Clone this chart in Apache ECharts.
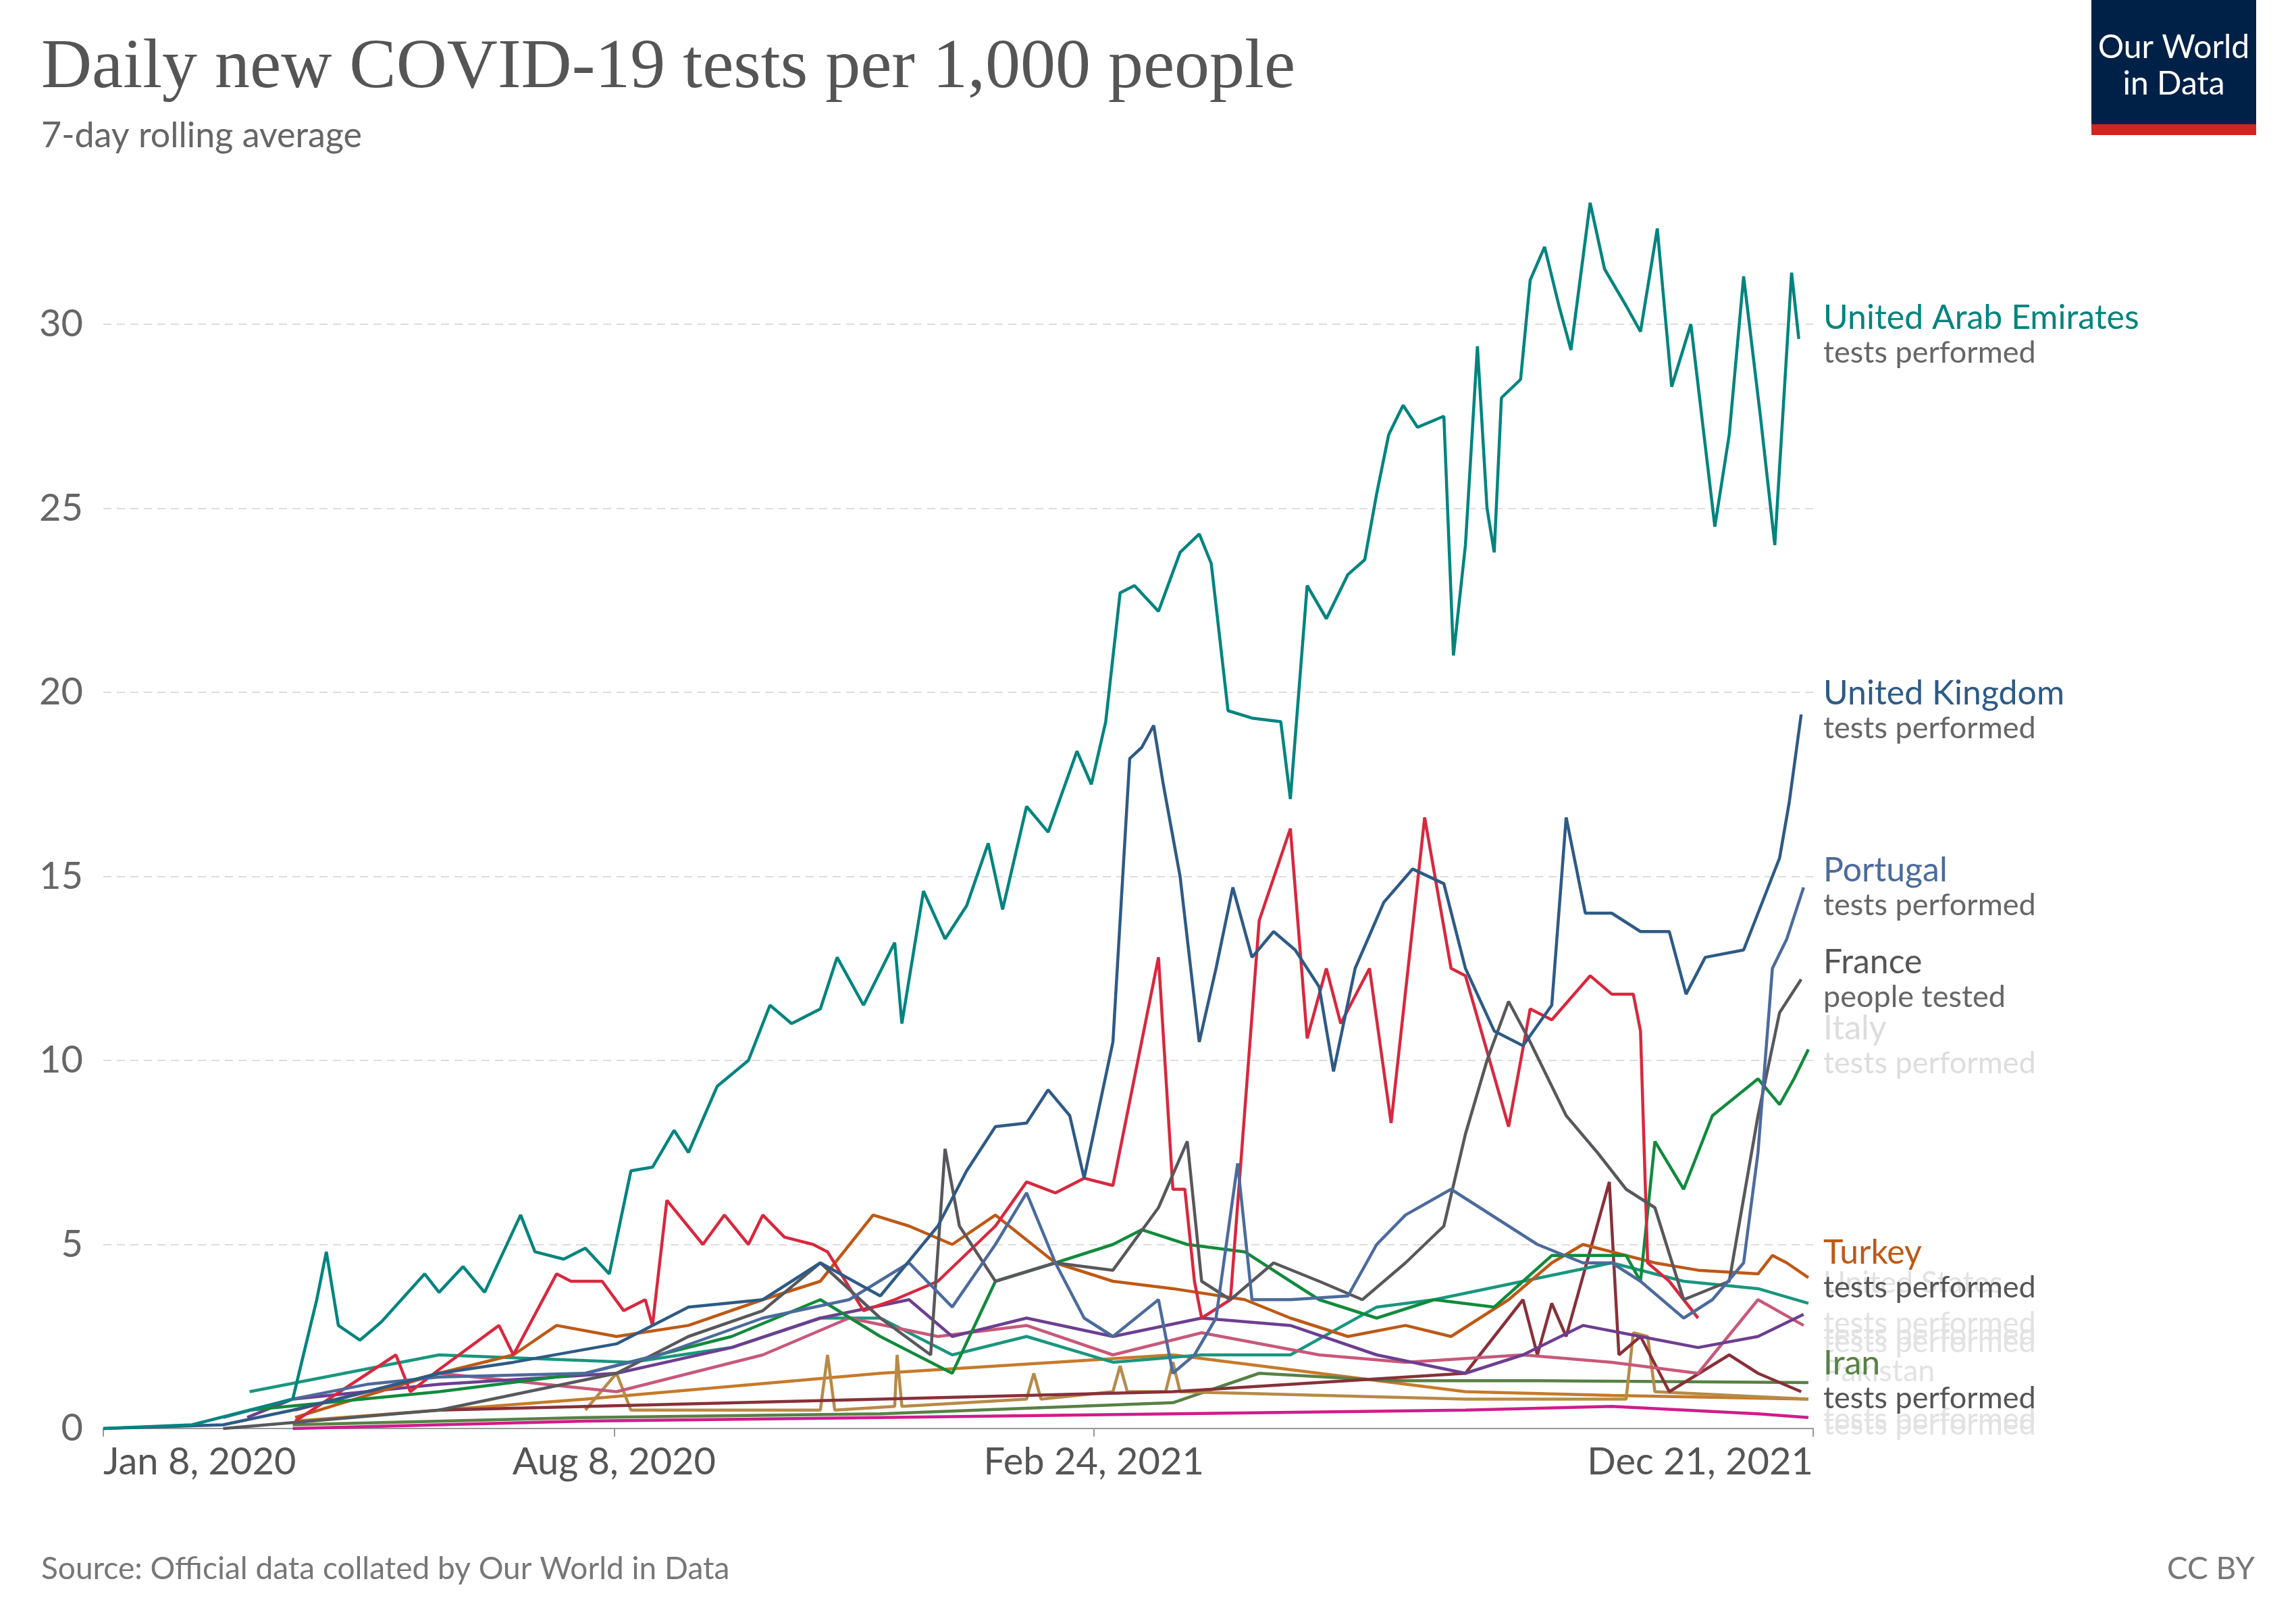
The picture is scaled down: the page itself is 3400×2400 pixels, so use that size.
<!DOCTYPE html>
<html><head><meta charset="utf-8">
<script src="https://cdn.jsdelivr.net/npm/echarts@6/dist/echarts.min.js"></script>
<style>html,body{margin:0;padding:0;background:#fff}#c{width:3400px;height:2400px}</style>
</head><body><div id="c"></div>
<script>
// x values: days since Jan 8, 2020
const xTicks = [0, 213, 413, 713];
const yTicks = [0, 5, 10, 15, 20, 25, 30];
const uae = [[0,0],[37,0.1],[79,0.8],[89,3.5],[93,4.8],[98,2.8],[107,2.4],[116,2.9],[134,4.2],[140,3.7],[150,4.4],[159,3.7],[174,5.8],[180,4.8],[192,4.6],[201,4.9],[211,4.2],[220,7.0],[229,7.1],[238,8.1],[244,7.5],[256,9.3],[269,10.0],[278,11.5],[287,11.0],[299,11.4],[306,12.8],[317,11.5],[330,13.2],[333,11.0],[342,14.6],[351,13.3],[360,14.2],[369,15.9],[375,14.1],[385,16.9],[394,16.2],[406,18.4],[412,17.5],[418,19.2],[424,22.7],[430,22.9],[440,22.2],[449,23.8],[457,24.3],[462,23.5],[469,19.5],[479,19.3],[491,19.2],[495,17.1],[502,22.9],[510,22.0],[519,23.2],[526,23.6],[531,25.4],[536,27.0],[542,27.8],[548,27.2],[559,27.5],[563,21.0],[568,24.0],[573,29.4],[577,25.0],[580,23.8],[583,28.0],[591,28.5],[595,31.2],[601,32.1],[607,30.5],[612,29.3],[620,33.3],[626,31.5],[635,30.5],[641,29.8],[648,32.6],[654,28.3],[662,30.0],[672,24.5],[678,27.0],[684,31.3],[691,27.5],[697,24.0],[704,31.4],[707,29.6]];
const uk = [[0,0],[50,0.1],[79,0.5],[110,1.0],[140,1.5],[171,1.8],[214,2.3],[244,3.3],[275,3.5],[299,4.5],[324,3.6],[348,5.5],[360,7.0],[372,8.2],[385,8.3],[394,9.2],[403,8.5],[409,6.8],[421,10.5],[428,18.2],[433,18.5],[438,19.1],[442,17.5],[449,15.0],[457,10.5],[464,12.5],[471,14.7],[479,12.8],[488,13.5],[497,13.0],[507,12.0],[513,9.7],[522,12.5],[534,14.3],[546,15.2],[559,14.8],[568,12.5],[580,10.8],[592,10.4],[604,11.5],[610,16.6],[618,14.0],[629,14.0],[641,13.5],[653,13.5],[660,11.8],[668,12.8],[684,13.0],[690,14.0],[699,15.5],[703,17.0],[708,19.4]];
const portugal = [[50,0.3],[79,0.8],[110,1.2],[140,1.4],[201,1.5],[232,2.0],[275,3.0],[311,3.5],[336,4.5],[354,3.3],[372,5.0],[385,6.4],[397,4.5],[409,3.0],[421,2.5],[440,3.5],[446,1.5],[455,2.0],[464,3.0],[473,7.2],[479,3.5],[495,3.5],[519,3.6],[531,5.0],[543,5.8],[562,6.5],[574,6.0],[586,5.5],[598,5.0],[617,4.5],[629,4.5],[641,4.0],[659,3.0],[671,3.5],[684,4.5],[690,7.5],[696,12.5],[702,13.3],[709,14.7]];
const france = [[50,0],[140,0.5],[214,1.5],[244,2.5],[275,3.2],[299,4.5],[324,3.0],[345,2.0],[351,7.6],[357,5.5],[372,4.0],[397,4.5],[421,4.3],[440,6.0],[452,7.8],[458,4.0],[470,3.5],[488,4.5],[507,4.0],[525,3.5],[543,4.5],[559,5.5],[568,8.0],[577,10.0],[586,11.6],[595,10.5],[610,8.5],[623,7.5],[635,6.5],[647,6.0],[659,3.5],[678,4.0],[690,8.5],[699,11.3],[708,12.2]];
const red = [[80,0.2],[122,2.0],[128,1.0],[140,1.6],[165,2.8],[171,2.0],[189,4.2],[195,4.0],[208,4.0],[217,3.2],[226,3.5],[229,2.8],[235,6.2],[250,5.0],[259,5.8],[269,5.0],[275,5.8],[284,5.2],[296,5.0],[302,4.8],[317,3.2],[330,3.5],[348,4.0],[372,5.5],[385,6.7],[397,6.4],[409,6.8],[421,6.6],[440,12.8],[446,6.5],[451,6.5],[455,4.0],[458,3.0],[470,3.5],[482,13.8],[495,16.3],[502,10.6],[510,12.5],[516,11.0],[528,12.5],[537,8.3],[551,16.6],[562,12.5],[568,12.3],[586,8.2],[595,11.4],[604,11.1],[620,12.3],[629,11.8],[638,11.8],[641,10.8],[644,4.5],[653,4.0],[665,3.0]];
const italy = [[61,0.5],[140,1.0],[201,1.5],[262,2.5],[299,3.5],[324,2.5],[354,1.5],[372,4.0],[397,4.5],[421,5.0],[433,5.4],[452,5.0],[476,4.8],[495,4.0],[507,3.5],[531,3.0],[555,3.5],[580,3.3],[592,4.0],[604,4.7],[623,4.7],[635,4.7],[641,4.0],[647,7.8],[659,6.5],[665,7.5],[671,8.5],[690,9.5],[699,8.8],[705,9.5],[711,10.3]];
const turkey = [[80,0.3],[140,1.5],[171,2.0],[189,2.8],[214,2.5],[244,2.8],[275,3.5],[299,4.0],[321,5.8],[336,5.5],[354,5.0],[372,5.8],[397,4.5],[421,4.0],[446,3.8],[476,3.5],[495,3.0],[519,2.5],[543,2.8],[562,2.5],[586,3.5],[604,4.5],[617,5.0],[629,4.8],[647,4.5],[665,4.3],[690,4.2],[696,4.7],[702,4.5],[711,4.1]];
const purple = [[60,0.3],[79,0.8],[140,1.2],[214,1.5],[262,2.2],[299,3.0],[336,3.5],[354,2.5],[385,3.0],[421,2.5],[458,3.0],[495,2.8],[531,2.0],[568,1.5],[592,2.0],[617,2.8],[641,2.5],[665,2.2],[690,2.5],[709,3.1]];
const pink = [[80,0.5],[140,1.5],[214,1.0],[275,2.0],[311,3.0],[348,2.5],[385,2.8],[421,2.0],[458,2.6],[507,2.0],[543,1.8],[592,2.0],[629,1.8],[665,1.5],[690,3.5],[709,2.8]];
const teal = [[61,1.0],[140,2.0],[220,1.8],[262,2.2],[299,3.0],[324,3.0],[354,2.0],[385,2.5],[421,1.8],[458,2.0],[495,2.0],[531,3.3],[555,3.5],[592,4.0],[629,4.5],[659,4.0],[690,3.8],[711,3.4]];
const darkred = [[140,0.5],[324,0.8],[446,1.0],[568,1.5],[592,3.5],[598,2.0],[604,3.4],[610,2.5],[628,6.7],[632,2.0],[641,2.5],[653,1.0],[678,2.0],[690,1.5],[708,1.0]];
const gold = [[201,0.5],[214,1.5],[220,0.5],[299,0.5],[302,2.0],[305,0.5],[330,0.6],[331,2.0],[333,0.6],[385,0.8],[388,1.5],[391,0.8],[421,1.0],[424,1.7],[427,1.0],[443,1.0],[446,1.8],[449,1.0],[568,0.8],[635,0.8],[638,2.6],[644,2.5],[647,1.0],[711,0.8]];
const iran = [[79,0.1],[201,0.3],[324,0.4],[446,0.7],[482,1.5],[537,1.3],[598,1.3],[711,1.25]];
const magenta = [[79,0],[201,0.2],[324,0.3],[446,0.4],[568,0.5],[629,0.6],[690,0.4],[711,0.3]];
const orange2 = [[80,0.2],[201,0.8],[324,1.5],[446,2.0],[507,1.5],[568,1.0],[629,0.9],[711,0.8]];

const series = [
  ['orange2',orange2,'#c77a2a'],['magenta',magenta,'#d01c8b'],['iran',iran,'#578145'],['gold',gold,'#b78a47'],
  ['darkred',darkred,'#883039'],['teal',teal,'#18967e'],['pink',pink,'#c8587a'],['purple',purple,'#6d3e91'],
  ['turkey',turkey,'#be5915'],['italy',italy,'#108a3c'],['red',red,'#d8283e'],['france',france,'#58585c'],
  ['portugal',portugal,'#4c6a9c'],['uk',uk,'#2e5a85'],['uae',uae,'#00847e']
];
const base = Date.UTC(2020,0,8);
const months = ['Jan','Feb','Mar','Apr','May','Jun','Jul','Aug','Sep','Oct','Nov','Dec'];
function fmt(d){const t=new Date(base+d*86400000);return months[t.getUTCMonth()]+' '+t.getUTCDate()+', '+t.getUTCFullYear();}

const chart = echarts.init(document.getElementById('c'));
const F = 'Lato, "Noto Sans", sans-serif';
chart.setOption({
  animation:false,
  grid:{left:153,right:715,top:480,bottom:285},
  xAxis:{type:'value',min:0,max:713,
    axisLine:{lineStyle:{color:'#999',width:2}},
    axisTick:{customValues:xTicks,length:12,lineStyle:{color:'#999',width:2}},
    splitLine:{show:false},
    axisLabel:{customValues:xTicks,formatter:fmt,fontFamily:F,fontSize:56,color:'#555',margin:22,alignMinLabel:'left',alignMaxLabel:'right'}},
  yAxis:{type:'value',min:0,max:30,interval:5,
    axisLine:{show:false},axisTick:{show:false},
    splitLine:{lineStyle:{color:'#ddd',type:[12,8],width:2}},
    axisLabel:{fontFamily:F,fontSize:56,color:'#666',margin:30}},
  series:series.map(s=>({type:'line',name:s[0],data:s[1],clip:false,showSymbol:false,silent:true,
    lineStyle:{color:s[2],width:4.5},itemStyle:{color:s[2]}}))
});
function py(v){return chart.convertToPixel({yAxisIndex:0},v);}
const lx = 2700;
const labels = [
  ['United Arab Emirates','tests performed',30.0,'#00847e','#666'],
  ['United Kingdom','tests performed',19.8,'#2e5a85','#666'],
  ['Portugal','tests performed',15.0,'#4c6a9c','#666'],
  ['France','people tested',12.5,'#555','#666'],
  ['Italy','tests performed',10.7,'#ddd','#ddd'],
  ['Turkey','tests performed',4.6,'#be5915','#555'],
  ['Iran','tests performed',1.6,'#578145','#555']
];
const g = [];
labels.forEach(l=>{
  const y = py(l[2]);
  g.push({type:'text',left:lx,top:y-34,style:{text:l[0],font:'50px '+F,fill:l[3]}});
  g.push({type:'text',left:lx,top:y+20,style:{text:l[1],font:'45px '+F,fill:l[4]}});
});
[['United States',3.9],['tests performed',2.8],['tests performed',2.5],['tests performed',2.3],['Pakistan',1.5],['tests performed',0.2],['tests performed',0.05]].forEach(c=>{
  g.push({type:'text',left:lx,top:py(c[1])-25,z:-1,style:{text:c[0],font:'45px '+F,fill:'#e2e2e2'}});
});
g.push({type:'text',left:61,top:50,style:{text:'Daily new COVID-19 tests per 1,000 people',font:'104px "Liberation Serif", serif',fill:'#555'}});
g.push({type:'text',left:61,top:175,style:{text:'7-day rolling average',font:'52px '+F,fill:'#666'}});
g.push({type:'rect',shape:{x:3097,y:0,width:244,height:200},style:{fill:'#002147'}});
g.push({type:'rect',shape:{x:3097,y:184,width:244,height:16},style:{fill:'#ce261e'}});
g.push({type:'text',x:3219,y:98,style:{text:'Our World\nin Data',font:'48px '+F,fill:'#fff',align:'center',verticalAlign:'middle',lineHeight:54}});
g.push({type:'text',left:61,top:2300,style:{text:'Source: Official data collated by Our World in Data',font:'46px '+F,fill:'#777'}});
g.push({type:'text',right:61,top:2300,style:{text:'CC BY',font:'46px '+F,fill:'#777'}});
chart.setOption({graphic:g});
</script></body></html>
